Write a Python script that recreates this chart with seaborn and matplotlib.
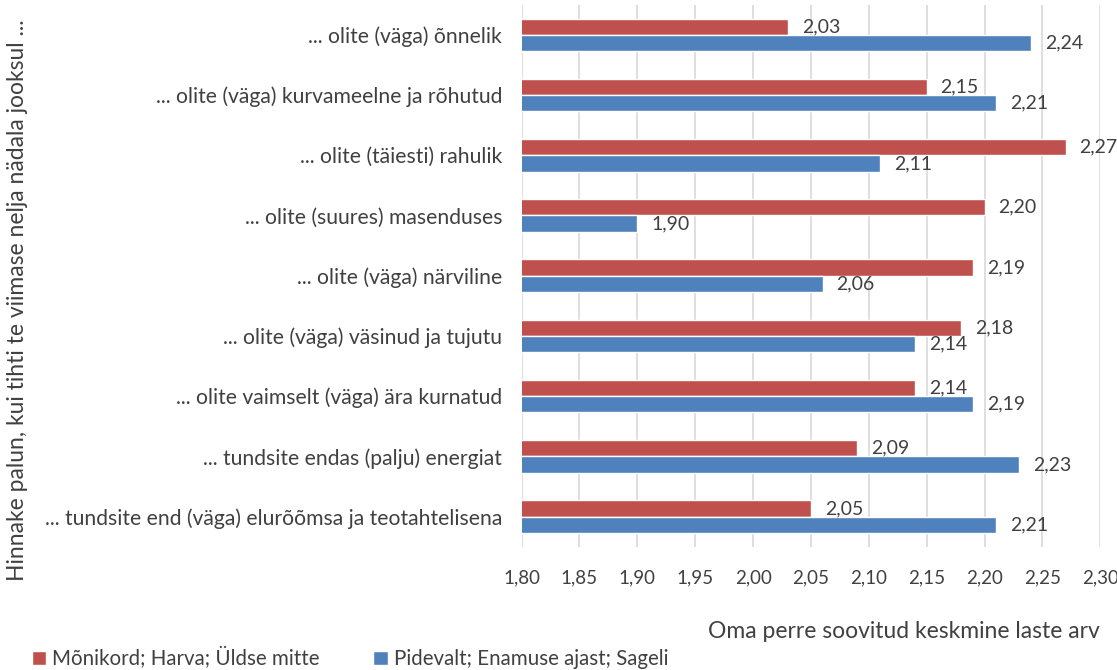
import pandas as pd
import matplotlib.pyplot as plt
import seaborn as sns

# Andmed
kategooriad = [
    "... olite (väga) õnnelik",
    "... olite (väga) kurvameelne ja rõhutud",
    "... olite (täiesti) rahulik",
    "... olite (suures) masenduses",
    "... olite (väga) närviline",
    "... olite (väga) väsinud ja tujutu",
    "... olite vaimselt (väga) ära kurnatud",
    "... tundsite endas (palju) energiat",
    "... tundsite end (väga) elurõõmsa ja teotahtelisena",
]
harva = [2.03, 2.15, 2.27, 2.20, 2.19, 2.18, 2.14, 2.09, 2.05]
sageli = [2.24, 2.21, 2.11, 1.90, 2.06, 2.14, 2.19, 2.23, 2.21]
seeriad = ["Mõnikord; Harva; Üldse mitte", "Pidevalt; Enamuse ajast; Sageli"]
xticks = [1.80, 1.85, 1.90, 1.95, 2.00, 2.05, 2.10, 2.15, 2.20, 2.25, 2.30]

df = pd.DataFrame({
    "kategooria": kategooriad * 2,
    "vaartus": harva + sageli,
    "seeria": [seeriad[0]] * len(harva) + [seeriad[1]] * len(sageli),
})

sns.set_style("white")
plt.rcParams["font.family"] = ["Lato", "DejaVu Sans"]
tekst = "#404040"

fig = plt.figure(figsize=(11.17, 6.70), dpi=100)
ax = fig.add_axes([0.467, 0.184, 0.518, 0.809])

sns.barplot(data=df, y="kategooria", x="vaartus", hue="seeria",
            palette=["#c0504d", "#4f81bd"], saturation=1, width=0.54,
            orient="h", ax=ax, legend=True)

ax.set_xlim(1.80, 2.30)
ax.set_xticks(xticks)
ax.set_xticklabels([f"{v:.2f}".replace(".", ",") for v in xticks],
                   fontsize=13.5, color=tekst)
ax.tick_params(axis="x", length=0, pad=16)
ax.tick_params(axis="y", length=0, pad=14, labelsize=15.2, labelcolor=tekst)
ax.grid(axis="x", color="#d9d9d9", linewidth=1.2)
ax.set_axisbelow(True)
for s in ax.spines.values():
    s.set_visible(False)
ax.set_ylabel("")
ax.set_xlabel("")

for cont in ax.containers:
    ax.bar_label(cont, labels=[f"{v:.2f}".replace(".", ",") for v in cont.datavalues],
                 padding=10, fontsize=14, color=tekst)

handles, labels = ax.get_legend_handles_labels()
ax.get_legend().remove()
fig.legend(handles, labels, loc="lower left", bbox_to_anchor=(0.012, -0.026),
           ncol=2, frameon=False, fontsize=14.8, handlelength=0.7,
           handleheight=0.7, handletextpad=0.3, columnspacing=2.6,
           labelcolor=tekst)

fig.text(0.985, 0.057, "Oma perre soovitud keskmine laste arv", ha="right",
         va="center", fontsize=16.5, color=tekst)
fig.text(0.016, 0.552, "Hinnake palun, kui tihti te viimase nelja nädala jooksul ...",
         rotation=90, ha="center", va="center", fontsize=16.5, color=tekst)

fig.savefig("out.png", dpi=100)
